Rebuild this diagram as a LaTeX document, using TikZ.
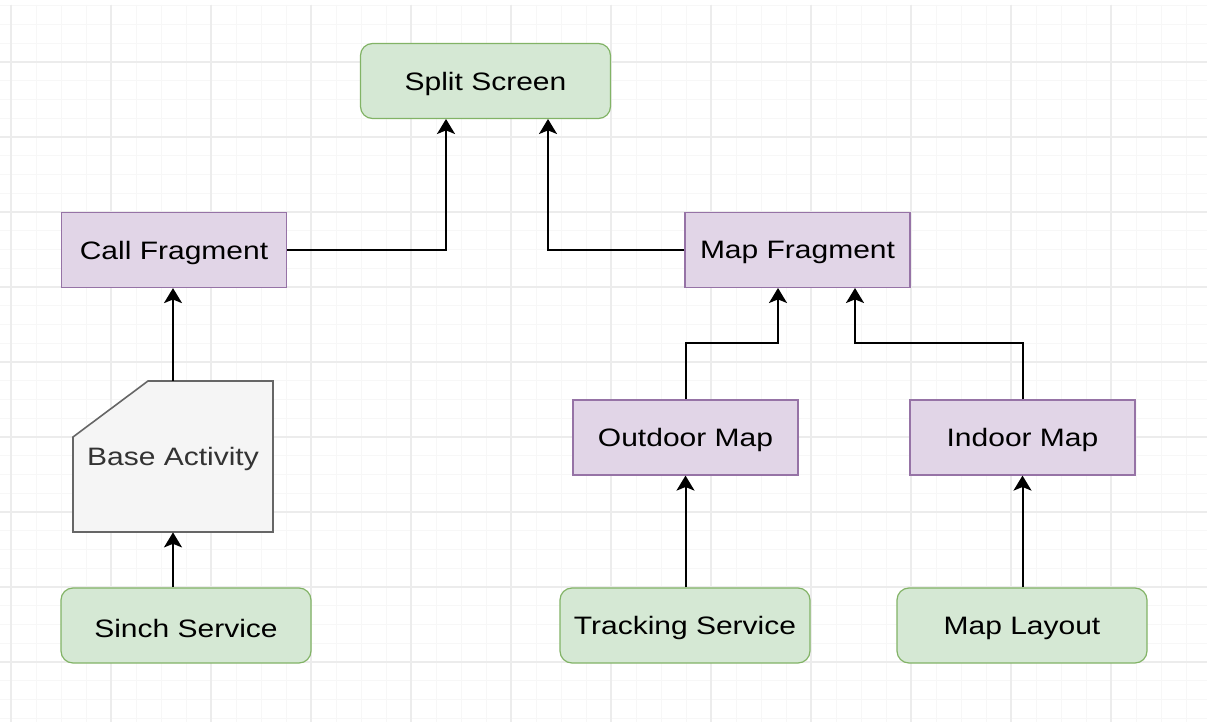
\documentclass[tikz,border=0pt]{standalone}
\usepackage{fontspec}
\setmainfont{Liberation Sans}
\usetikzlibrary{arrows.meta}
\definecolor{gfill}{HTML}{D5E8D4}
\definecolor{gline}{HTML}{82B366}
\definecolor{pfill}{HTML}{E1D5E7}
\definecolor{pline}{HTML}{9673A6}
\definecolor{cfill}{HTML}{F5F5F5}
\definecolor{cline}{HTML}{666666}
\definecolor{ctext}{HTML}{333333}
\definecolor{gridmaj}{HTML}{ECECEC}
\definecolor{gridmin}{HTML}{F7F7F7}
\newcommand{\lbl}[1]{\raisebox{-1.4pt}[\height][\depth]{\scalebox{1.19}[1]{#1}}}
\tikzset{
  base/.style={minimum width=#1, minimum height=37.5pt, inner sep=0pt, line width=0.6pt,
    font=\fontsize{12.6}{15}\selectfont},
  greenbox/.style={base=125pt, rounded corners=6pt, fill=gfill, draw=gline},
  purplebox/.style={base=112.5pt, fill=pfill, draw=pline},
  conn/.style={line width=1pt, -{Stealth[length=7.5pt,width=9pt,inset=1.8pt]}},
}
\begin{document}
\begin{tikzpicture}[x=0.5pt,y=-0.5pt]
\useasboundingbox (0,0) rectangle (1207,722);
\fill[white] (0,0) rectangle (1207,722);
% grid
\foreach \i in {0,...,48} {
  \draw[gridmin, line width=0.5pt] ({11+25*\i},5) -- ({11+25*\i},722);
}
\foreach \j in {0,...,38} {
  \draw[gridmin, line width=0.5pt] (0,{5.75+18.75*\j}) -- (1207,{5.75+18.75*\j});
}
\foreach \i in {0,...,12} {
  \draw[gridmaj, line width=0.6pt] ({11+100*\i},5) -- ({11+100*\i},722);
}
\foreach \j in {0,...,9} {
  \draw[gridmaj, line width=0.6pt] (0,{62+75*\j}) -- (1207,{62+75*\j});
}
% nodes
\node[greenbox] (split) at (485.5,81) {\lbl{Split Screen}};
\node[purplebox] (call) at (174,250) {\lbl{Call Fragment}};
\node[purplebox] (mapf) at (797.5,250) {\lbl{Map Fragment}};
\node[purplebox] (outdoor) at (685.5,437.5) {\lbl{Outdoor Map}};
\node[purplebox] (indoor) at (1022.5,437.5) {\lbl{Indoor Map}};
\node[greenbox] (sinch) at (186,625.5) {\lbl{Sinch Service}};
\node[greenbox] (tracking) at (685,625.5) {\lbl{Tracking Service}};
\node[greenbox] (layout) at (1022,625.5) {\lbl{Map Layout}};
% card shape
\draw[fill=cfill, draw=cline, line width=0.8pt]
  (148,381) -- (273,381) -- (273,532) -- (73,532) -- (73,437) -- cycle;
\node[inner sep=0pt, minimum width=100pt, minimum height=75.5pt,
  font=\fontsize{12.6}{15}\selectfont, text=ctext] (baseact) at (173,456.5) {\lbl{Base Activity}};
% connectors
\draw[conn] (call.east) -- (446,250) -- (446,119);
\draw[conn] (mapf.west) -- (548,250) -- (548,119);
\draw[conn] (baseact.north) -- (call.south -| baseact.north);
\draw[conn] (sinch.north -| baseact.south) -- (baseact.south);
\draw[conn] (outdoor.north) -- (685.5,343) -- (778,343) -- (778,288);
\draw[conn] (indoor.north) -- (1022.5,343) -- (855,343) -- (855,288);
\draw[conn] (tracking.north -| outdoor.south) -- (outdoor.south);
\draw[conn] (layout.north -| indoor.south) -- (indoor.south);
\end{tikzpicture}
\end{document}
